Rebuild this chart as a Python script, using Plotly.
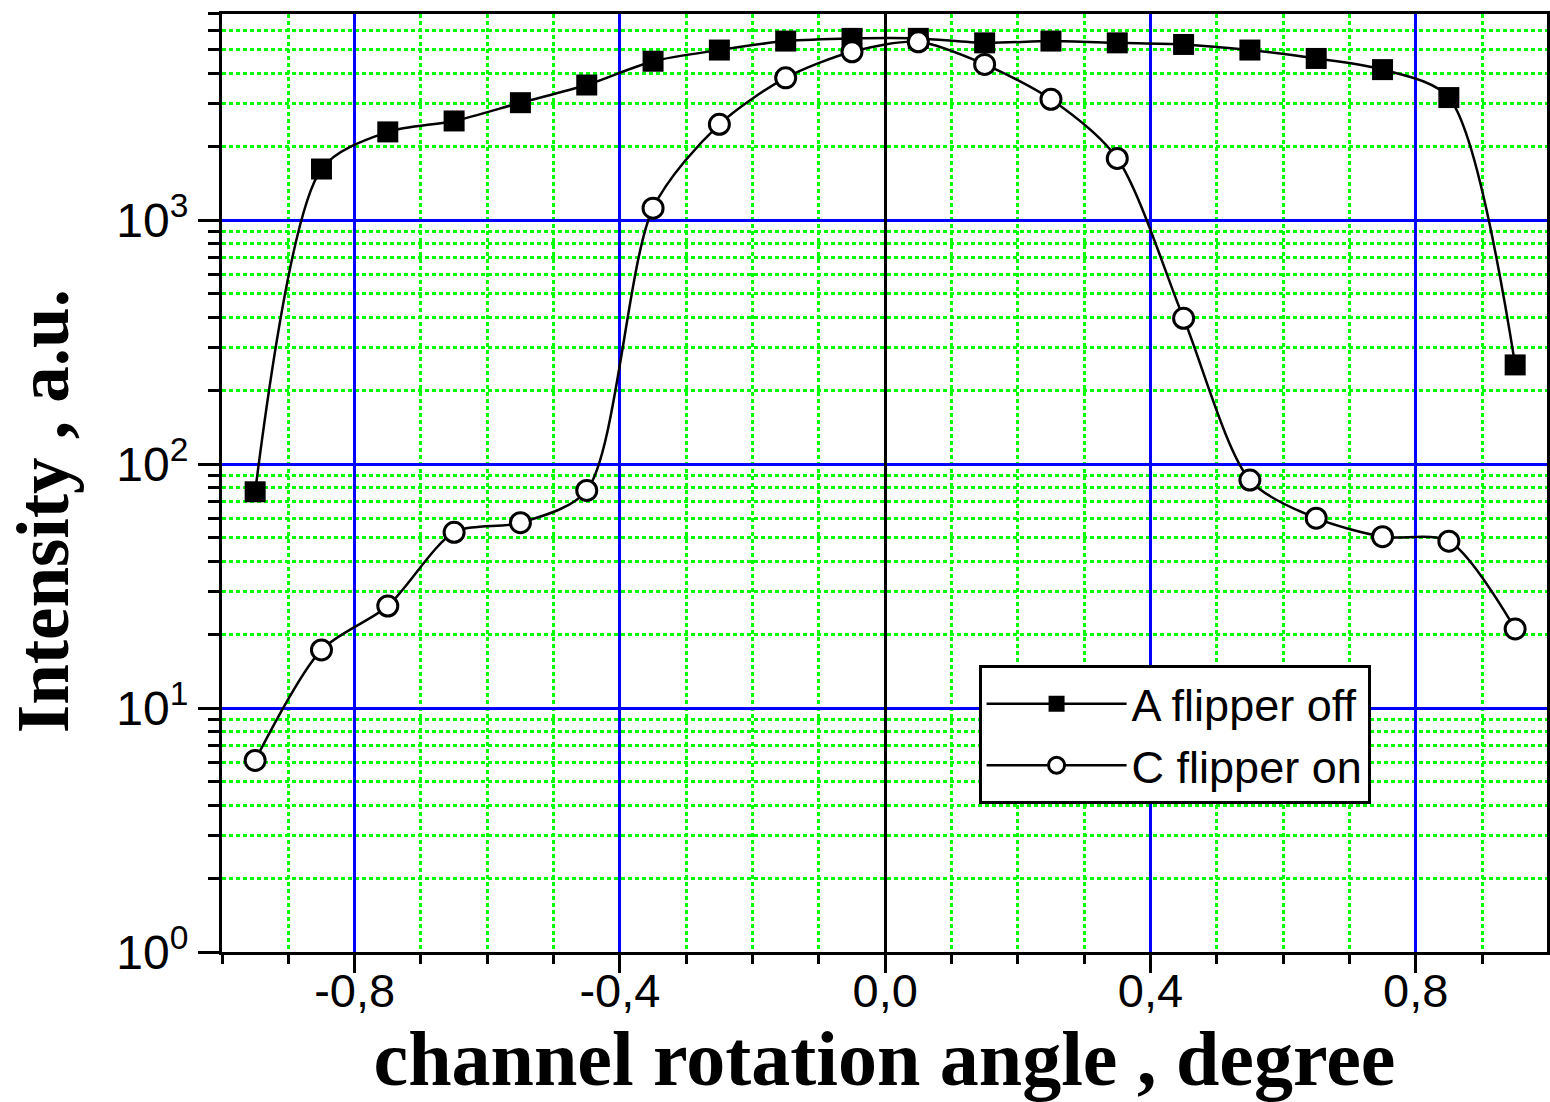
import plotly.graph_objects as go

# ---- data ----
angle = [-0.95, -0.85, -0.75, -0.65, -0.55, -0.45, -0.35, -0.25, -0.15, -0.05,
         0.05, 0.15, 0.25, 0.35, 0.45, 0.55, 0.65, 0.75, 0.85, 0.95]
flipper_off = [77, 1620, 2300, 2550, 3030, 3580, 4480, 4980, 5420, 5560,
               5560, 5330, 5420, 5330, 5250, 4980, 4600, 4140, 3180, 255]
flipper_on = [6.1, 17.3, 26.2, 52.5, 57.5, 78, 1120, 2470, 3830, 4900,
              5380, 4350, 3130, 1790, 396, 86, 60, 50.4, 48.3, 21.1]

x_tick_vals = [-0.8, -0.4, 0.0, 0.4, 0.8]
x_tick_text = ["-0,8", "-0,4", "0,0", "0,4", "0,8"]
y_tick_vals = [1, 10, 100, 1000]
y_tick_text = ["10<sup>0</sup>", "10<sup>1</sup>", "10<sup>2</sup>", "10<sup>3</sup>"]
y_minor_vals = [m * 10 ** d for d in range(4) for m in range(2, 10)]
x_minor_vals = [round(-1.0 + 0.1 * i, 1) for i in range(21)]

GREEN = "#00ff00"
BLUE = "#0000ff"
SANS = "Liberation Sans, Arial, sans-serif"
SERIF = "Liberation Serif, Times New Roman, serif"

fig = go.Figure()
fig.add_trace(go.Scatter(
    x=angle, y=flipper_off, name="A flipper off", mode="lines+markers",
    line=dict(color="black", width=2.5, shape="spline", smoothing=0.8),
    marker=dict(symbol="square", size=21, color="black"),
))
fig.add_trace(go.Scatter(
    x=angle, y=flipper_on, name="C flipper on", mode="lines+markers",
    line=dict(color="black", width=2.5, shape="spline", smoothing=0.8),
    marker=dict(symbol="circle", size=20, color="white",
                line=dict(color="black", width=3)),
))

fig.update_layout(
    width=1550, height=1102,
    margin=dict(l=222, r=0, t=14, b=150),
    paper_bgcolor="white", plot_bgcolor="white",
    font=dict(family=SANS, color="black"),
    showlegend=True,
    legend=dict(
        x=0.571, y=0.306, xanchor="left", yanchor="top",
        bgcolor="white", bordercolor="black", borderwidth=3,
        font=dict(family=SANS, size=45, color="black"),
        itemwidth=140, tracegroupgap=0,
    ),
)

fig.update_xaxes(
    range=[-1.0, 0.998],
    tickmode="array", tickvals=x_tick_vals, ticktext=x_tick_text,
    ticks="outside", ticklen=18, tickwidth=3, tickcolor="black",
    ticklabelstandoff=-22,
    tickfont=dict(family=SANS, size=47, color="black"),
    showgrid=True, gridcolor=BLUE, gridwidth=3,
    zeroline=True, zerolinecolor="black", zerolinewidth=3,
    showline=True, linecolor="black", linewidth=3, mirror=True,
    minor=dict(tickmode="array", tickvals=x_minor_vals, ticks="outside",
               ticklen=9, tickwidth=3, tickcolor="black",
               showgrid=True, gridcolor=GREEN, gridwidth=3, griddash="4px,3px"),
    title=dict(text="<b>channel rotation angle , degree</b>",
               font=dict(family=SERIF, size=78, color="black"),
               standoff=0),
)

fig.update_yaxes(
    type="log", range=[0, 3.845],
    tickmode="array", tickvals=y_tick_vals, ticktext=y_tick_text,
    ticks="outside", ticklen=21, tickwidth=3, tickcolor="black",
    tickfont=dict(family=SANS, size=48, color="black"),
    showgrid=True, gridcolor=BLUE, gridwidth=3,
    zeroline=False,
    showline=True, linecolor="black", linewidth=3, mirror=True,
    minor=dict(tickmode="array", tickvals=y_minor_vals, ticks="outside",
               ticklen=11, tickwidth=3, tickcolor="black",
               showgrid=True, gridcolor=GREEN, gridwidth=3, griddash="4px,3px"),
)

fig.add_annotation(
    text="<b>Intensity , a.u.</b>", textangle=-90,
    xref="paper", yref="paper", x=-0.135, y=0.47,
    xanchor="center", yanchor="middle", showarrow=False,
    font=dict(family=SERIF, size=73, color="black"),
)

fig.write_html("out.html")
